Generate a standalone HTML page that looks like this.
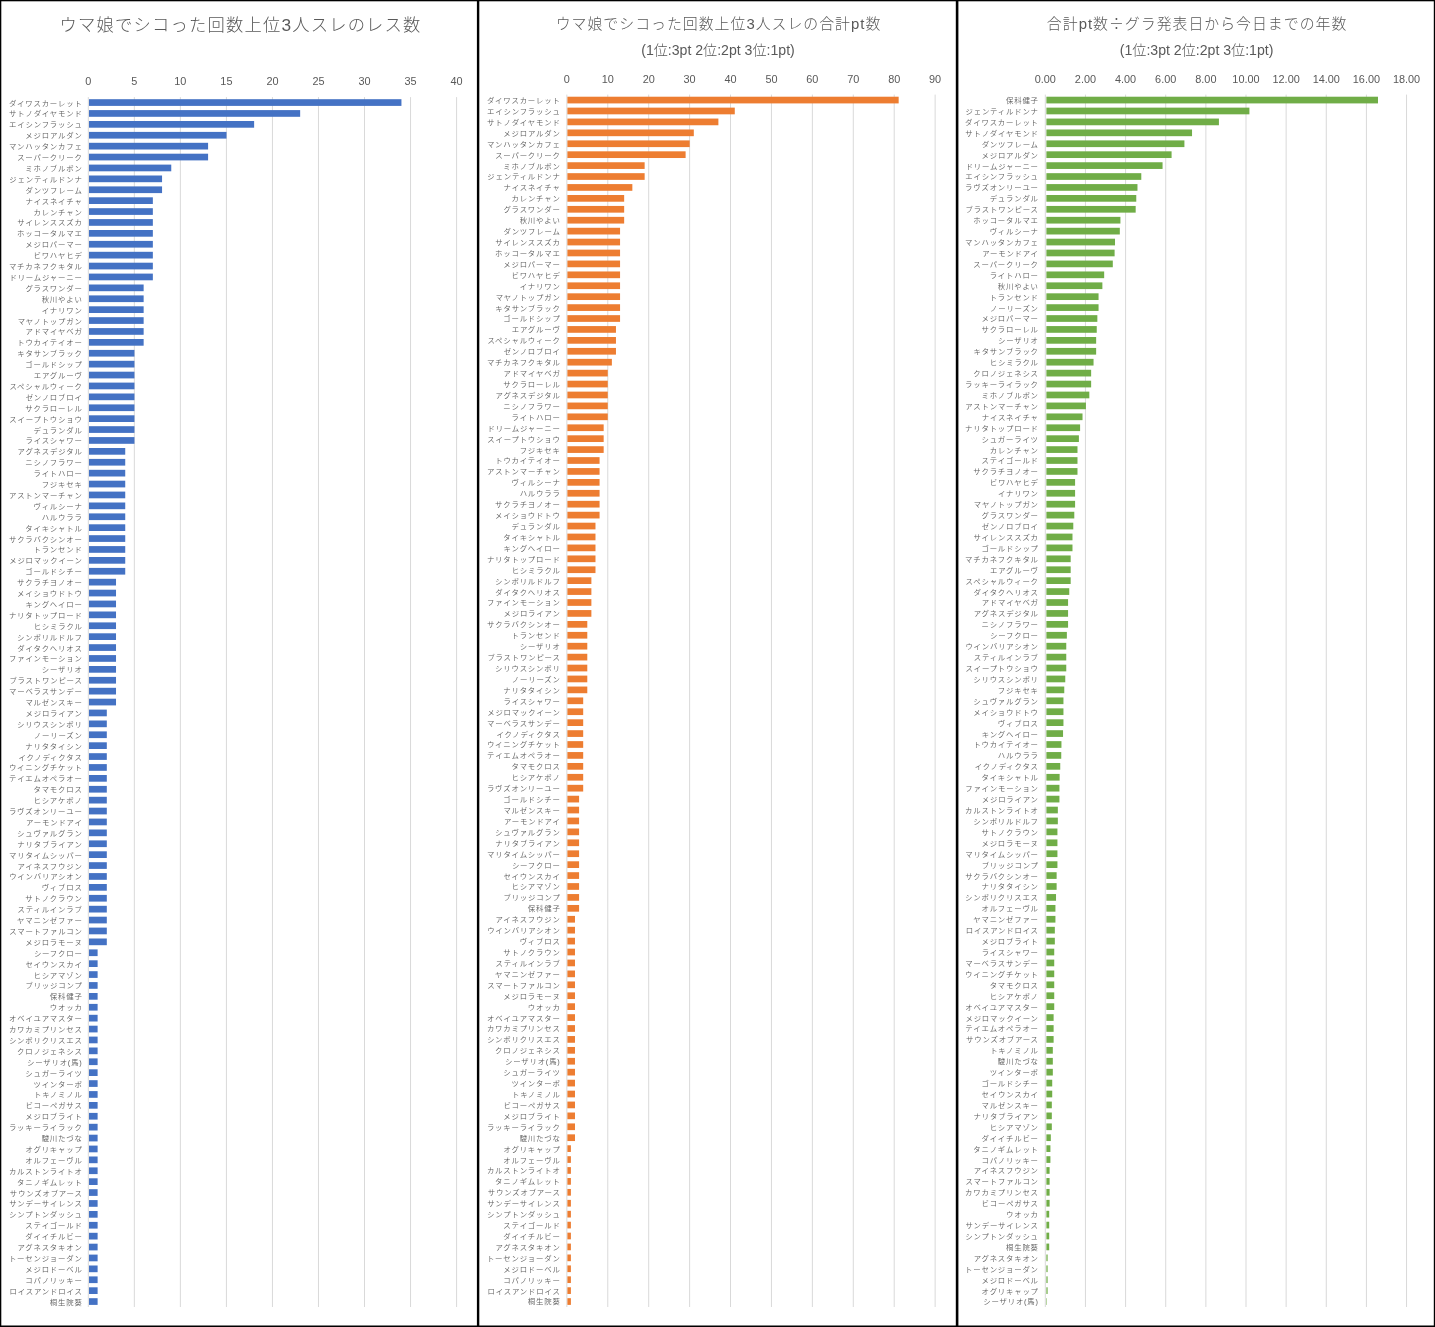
<!DOCTYPE html>
<html lang="ja"><head><meta charset="utf-8"><title>chart</title>
<style>
html,body{margin:0;padding:0;background:#fff;}
body{width:1435px;height:1327px;overflow:hidden;}
svg{display:block;font-family:"Liberation Sans", "Noto Sans CJK JP", sans-serif;}
.lb text{font-size:7.4px;letter-spacing:0.8px;fill:#606060;font-weight:350;}
.tk text{font-size:10.9px;fill:#595959;}
.tt{fill:#595959;font-weight:300;}
.cj{font-family:"Noto Sans CJK JP", sans-serif;}
</style></head><body>
<svg width="1435" height="1327" viewBox="0 0 1435 1327">
<rect x="0" y="0" width="1435" height="1327" fill="#fff"/>
<g stroke="#d9d9d9" stroke-width="1">
<line x1="88.30" y1="97.10" x2="88.30" y2="1307.00"/>
<line x1="134.34" y1="97.10" x2="134.34" y2="1307.00"/>
<line x1="180.37" y1="97.10" x2="180.37" y2="1307.00"/>
<line x1="226.41" y1="97.10" x2="226.41" y2="1307.00"/>
<line x1="272.44" y1="97.10" x2="272.44" y2="1307.00"/>
<line x1="318.48" y1="97.10" x2="318.48" y2="1307.00"/>
<line x1="364.51" y1="97.10" x2="364.51" y2="1307.00"/>
<line x1="410.55" y1="97.10" x2="410.55" y2="1307.00"/>
<line x1="456.58" y1="97.10" x2="456.58" y2="1307.00"/>
</g>
<g class="tk" text-anchor="middle">
<text x="88.30" y="85.2">0</text>
<text x="134.34" y="85.2">5</text>
<text x="180.37" y="85.2">10</text>
<text x="226.41" y="85.2">15</text>
<text x="272.44" y="85.2">20</text>
<text x="318.48" y="85.2">25</text>
<text x="364.51" y="85.2">30</text>
<text x="410.55" y="85.2">35</text>
<text x="456.58" y="85.2">40</text>
</g>
<g fill="#4472c4">
<rect x="89.00" y="99.20" width="312.44" height="6.7"/>
<rect x="89.00" y="110.10" width="211.16" height="6.7"/>
<rect x="89.00" y="121.00" width="165.13" height="6.7"/>
<rect x="89.00" y="131.90" width="137.51" height="6.7"/>
<rect x="89.00" y="142.80" width="119.09" height="6.7"/>
<rect x="89.00" y="153.70" width="119.09" height="6.7"/>
<rect x="89.00" y="164.60" width="82.26" height="6.7"/>
<rect x="89.00" y="175.50" width="73.06" height="6.7"/>
<rect x="89.00" y="186.40" width="73.06" height="6.7"/>
<rect x="89.00" y="197.30" width="63.85" height="6.7"/>
<rect x="89.00" y="208.20" width="63.85" height="6.7"/>
<rect x="89.00" y="219.10" width="63.85" height="6.7"/>
<rect x="89.00" y="230.00" width="63.85" height="6.7"/>
<rect x="89.00" y="240.90" width="63.85" height="6.7"/>
<rect x="89.00" y="251.80" width="63.85" height="6.7"/>
<rect x="89.00" y="262.70" width="63.85" height="6.7"/>
<rect x="89.00" y="273.60" width="63.85" height="6.7"/>
<rect x="89.00" y="284.50" width="54.64" height="6.7"/>
<rect x="89.00" y="295.40" width="54.64" height="6.7"/>
<rect x="89.00" y="306.30" width="54.64" height="6.7"/>
<rect x="89.00" y="317.20" width="54.64" height="6.7"/>
<rect x="89.00" y="328.10" width="54.64" height="6.7"/>
<rect x="89.00" y="339.00" width="54.64" height="6.7"/>
<rect x="89.00" y="349.90" width="45.44" height="6.7"/>
<rect x="89.00" y="360.80" width="45.44" height="6.7"/>
<rect x="89.00" y="371.70" width="45.44" height="6.7"/>
<rect x="89.00" y="382.60" width="45.44" height="6.7"/>
<rect x="89.00" y="393.50" width="45.44" height="6.7"/>
<rect x="89.00" y="404.40" width="45.44" height="6.7"/>
<rect x="89.00" y="415.30" width="45.44" height="6.7"/>
<rect x="89.00" y="426.20" width="45.44" height="6.7"/>
<rect x="89.00" y="437.10" width="45.44" height="6.7"/>
<rect x="89.00" y="448.00" width="36.23" height="6.7"/>
<rect x="89.00" y="458.90" width="36.23" height="6.7"/>
<rect x="89.00" y="469.80" width="36.23" height="6.7"/>
<rect x="89.00" y="480.70" width="36.23" height="6.7"/>
<rect x="89.00" y="491.60" width="36.23" height="6.7"/>
<rect x="89.00" y="502.50" width="36.23" height="6.7"/>
<rect x="89.00" y="513.40" width="36.23" height="6.7"/>
<rect x="89.00" y="524.30" width="36.23" height="6.7"/>
<rect x="89.00" y="535.20" width="36.23" height="6.7"/>
<rect x="89.00" y="546.10" width="36.23" height="6.7"/>
<rect x="89.00" y="557.00" width="36.23" height="6.7"/>
<rect x="89.00" y="567.90" width="36.23" height="6.7"/>
<rect x="89.00" y="578.80" width="27.02" height="6.7"/>
<rect x="89.00" y="589.70" width="27.02" height="6.7"/>
<rect x="89.00" y="600.60" width="27.02" height="6.7"/>
<rect x="89.00" y="611.50" width="27.02" height="6.7"/>
<rect x="89.00" y="622.40" width="27.02" height="6.7"/>
<rect x="89.00" y="633.30" width="27.02" height="6.7"/>
<rect x="89.00" y="644.20" width="27.02" height="6.7"/>
<rect x="89.00" y="655.10" width="27.02" height="6.7"/>
<rect x="89.00" y="666.00" width="27.02" height="6.7"/>
<rect x="89.00" y="676.90" width="27.02" height="6.7"/>
<rect x="89.00" y="687.80" width="27.02" height="6.7"/>
<rect x="89.00" y="698.70" width="27.02" height="6.7"/>
<rect x="89.00" y="709.60" width="17.81" height="6.7"/>
<rect x="89.00" y="720.50" width="17.81" height="6.7"/>
<rect x="89.00" y="731.40" width="17.81" height="6.7"/>
<rect x="89.00" y="742.30" width="17.81" height="6.7"/>
<rect x="89.00" y="753.20" width="17.81" height="6.7"/>
<rect x="89.00" y="764.10" width="17.81" height="6.7"/>
<rect x="89.00" y="775.00" width="17.81" height="6.7"/>
<rect x="89.00" y="785.90" width="17.81" height="6.7"/>
<rect x="89.00" y="796.80" width="17.81" height="6.7"/>
<rect x="89.00" y="807.70" width="17.81" height="6.7"/>
<rect x="89.00" y="818.60" width="17.81" height="6.7"/>
<rect x="89.00" y="829.50" width="17.81" height="6.7"/>
<rect x="89.00" y="840.40" width="17.81" height="6.7"/>
<rect x="89.00" y="851.30" width="17.81" height="6.7"/>
<rect x="89.00" y="862.20" width="17.81" height="6.7"/>
<rect x="89.00" y="873.10" width="17.81" height="6.7"/>
<rect x="89.00" y="884.00" width="17.81" height="6.7"/>
<rect x="89.00" y="894.90" width="17.81" height="6.7"/>
<rect x="89.00" y="905.80" width="17.81" height="6.7"/>
<rect x="89.00" y="916.70" width="17.81" height="6.7"/>
<rect x="89.00" y="927.60" width="17.81" height="6.7"/>
<rect x="89.00" y="938.50" width="17.81" height="6.7"/>
<rect x="89.00" y="949.40" width="8.61" height="6.7"/>
<rect x="89.00" y="960.30" width="8.61" height="6.7"/>
<rect x="89.00" y="971.20" width="8.61" height="6.7"/>
<rect x="89.00" y="982.10" width="8.61" height="6.7"/>
<rect x="89.00" y="993.00" width="8.61" height="6.7"/>
<rect x="89.00" y="1003.90" width="8.61" height="6.7"/>
<rect x="89.00" y="1014.80" width="8.61" height="6.7"/>
<rect x="89.00" y="1025.70" width="8.61" height="6.7"/>
<rect x="89.00" y="1036.60" width="8.61" height="6.7"/>
<rect x="89.00" y="1047.50" width="8.61" height="6.7"/>
<rect x="89.00" y="1058.40" width="8.61" height="6.7"/>
<rect x="89.00" y="1069.30" width="8.61" height="6.7"/>
<rect x="89.00" y="1080.20" width="8.61" height="6.7"/>
<rect x="89.00" y="1091.10" width="8.61" height="6.7"/>
<rect x="89.00" y="1102.00" width="8.61" height="6.7"/>
<rect x="89.00" y="1112.90" width="8.61" height="6.7"/>
<rect x="89.00" y="1123.80" width="8.61" height="6.7"/>
<rect x="89.00" y="1134.70" width="8.61" height="6.7"/>
<rect x="89.00" y="1145.60" width="8.61" height="6.7"/>
<rect x="89.00" y="1156.50" width="8.61" height="6.7"/>
<rect x="89.00" y="1167.40" width="8.61" height="6.7"/>
<rect x="89.00" y="1178.30" width="8.61" height="6.7"/>
<rect x="89.00" y="1189.20" width="8.61" height="6.7"/>
<rect x="89.00" y="1200.10" width="8.61" height="6.7"/>
<rect x="89.00" y="1211.00" width="8.61" height="6.7"/>
<rect x="89.00" y="1221.90" width="8.61" height="6.7"/>
<rect x="89.00" y="1232.80" width="8.61" height="6.7"/>
<rect x="89.00" y="1243.70" width="8.61" height="6.7"/>
<rect x="89.00" y="1254.60" width="8.61" height="6.7"/>
<rect x="89.00" y="1265.50" width="8.61" height="6.7"/>
<rect x="89.00" y="1276.40" width="8.61" height="6.7"/>
<rect x="89.00" y="1287.30" width="8.61" height="6.7"/>
<rect x="89.00" y="1298.20" width="8.61" height="6.7"/>
</g>
<g class="lb" text-anchor="end">
<text x="82.6" y="105.50">ダイワスカーレット</text>
<text x="82.6" y="116.40">サトノダイヤモンド</text>
<text x="82.6" y="127.30">エイシンフラッシュ</text>
<text x="82.6" y="138.20">メジロアルダン</text>
<text x="82.6" y="149.10">マンハッタンカフェ</text>
<text x="82.6" y="160.00">スーパークリーク</text>
<text x="82.6" y="170.90">ミホノブルボン</text>
<text x="82.6" y="181.80">ジェンティルドンナ</text>
<text x="82.6" y="192.70">ダンツフレーム</text>
<text x="82.6" y="203.60">ナイスネイチャ</text>
<text x="82.6" y="214.50">カレンチャン</text>
<text x="82.6" y="225.40">サイレンススズカ</text>
<text x="82.6" y="236.30">ホッコータルマエ</text>
<text x="82.6" y="247.20">メジロパーマー</text>
<text x="82.6" y="258.10">ビワハヤヒデ</text>
<text x="82.6" y="269.00">マチカネフクキタル</text>
<text x="82.6" y="279.90">ドリームジャーニー</text>
<text x="82.6" y="290.80">グラスワンダー</text>
<text x="82.6" y="301.70">秋川やよい</text>
<text x="82.6" y="312.60">イナリワン</text>
<text x="82.6" y="323.50">マヤノトップガン</text>
<text x="82.6" y="334.40">アドマイヤベガ</text>
<text x="82.6" y="345.30">トウカイテイオー</text>
<text x="82.6" y="356.20">キタサンブラック</text>
<text x="82.6" y="367.10">ゴールドシップ</text>
<text x="82.6" y="378.00">エアグルーヴ</text>
<text x="82.6" y="388.90">スペシャルウィーク</text>
<text x="82.6" y="399.80">ゼンノロブロイ</text>
<text x="82.6" y="410.70">サクラローレル</text>
<text x="82.6" y="421.60">スイープトウショウ</text>
<text x="82.6" y="432.50">デュランダル</text>
<text x="82.6" y="443.40">ライスシャワー</text>
<text x="82.6" y="454.30">アグネスデジタル</text>
<text x="82.6" y="465.20">ニシノフラワー</text>
<text x="82.6" y="476.10">ライトハロー</text>
<text x="82.6" y="487.00">フジキセキ</text>
<text x="82.6" y="497.90">アストンマーチャン</text>
<text x="82.6" y="508.80">ヴィルシーナ</text>
<text x="82.6" y="519.70">ハルウララ</text>
<text x="82.6" y="530.60">タイキシャトル</text>
<text x="82.6" y="541.50">サクラバクシンオー</text>
<text x="82.6" y="552.40">トランセンド</text>
<text x="82.6" y="563.30">メジロマックイーン</text>
<text x="82.6" y="574.20">ゴールドシチー</text>
<text x="82.6" y="585.10">サクラチヨノオー</text>
<text x="82.6" y="596.00">メイショウドトウ</text>
<text x="82.6" y="606.90">キングヘイロー</text>
<text x="82.6" y="617.80">ナリタトップロード</text>
<text x="82.6" y="628.70">ヒシミラクル</text>
<text x="82.6" y="639.60">シンボリルドルフ</text>
<text x="82.6" y="650.50">ダイタクヘリオス</text>
<text x="82.6" y="661.40">ファインモーション</text>
<text x="82.6" y="672.30">シーザリオ</text>
<text x="82.6" y="683.20">ブラストワンピース</text>
<text x="82.6" y="694.10">マーベラスサンデー</text>
<text x="82.6" y="705.00">マルゼンスキー</text>
<text x="82.6" y="715.90">メジロライアン</text>
<text x="82.6" y="726.80">シリウスシンボリ</text>
<text x="82.6" y="737.70">ノーリーズン</text>
<text x="82.6" y="748.60">ナリタタイシン</text>
<text x="82.6" y="759.50">イクノディクタス</text>
<text x="82.6" y="770.40">ウイニングチケット</text>
<text x="82.6" y="781.30">テイエムオペラオー</text>
<text x="82.6" y="792.20">タマモクロス</text>
<text x="82.6" y="803.10">ヒシアケボノ</text>
<text x="82.6" y="814.00">ラヴズオンリーユー</text>
<text x="82.6" y="824.90">アーモンドアイ</text>
<text x="82.6" y="835.80">シュヴァルグラン</text>
<text x="82.6" y="846.70">ナリタブライアン</text>
<text x="82.6" y="857.60">マリタイムシッパー</text>
<text x="82.6" y="868.50">アイネスフウジン</text>
<text x="82.6" y="879.40">ウインバリアシオン</text>
<text x="82.6" y="890.30">ヴィブロス</text>
<text x="82.6" y="901.20">サトノクラウン</text>
<text x="82.6" y="912.10">スティルインラブ</text>
<text x="82.6" y="923.00">ヤマニンゼファー</text>
<text x="82.6" y="933.90">スマートファルコン</text>
<text x="82.6" y="944.80">メジロラモーヌ</text>
<text x="82.6" y="955.70">シーフクロー</text>
<text x="82.6" y="966.60">セイウンスカイ</text>
<text x="82.6" y="977.50">ヒシアマゾン</text>
<text x="82.6" y="988.40">ブリッジコンプ</text>
<text x="82.6" y="999.30">保科健子</text>
<text x="82.6" y="1010.20">ウオッカ</text>
<text x="82.6" y="1021.10">オベイユアマスター</text>
<text x="82.6" y="1032.00">カワカミプリンセス</text>
<text x="82.6" y="1042.90">シンボリクリスエス</text>
<text x="82.6" y="1053.80">クロノジェネシス</text>
<text x="82.6" y="1064.70">シーザリオ(馬)</text>
<text x="82.6" y="1075.60">シュガーライツ</text>
<text x="82.6" y="1086.50">ツインターボ</text>
<text x="82.6" y="1097.40">トキノミノル</text>
<text x="82.6" y="1108.30">ビコーペガサス</text>
<text x="82.6" y="1119.20">メジロブライト</text>
<text x="82.6" y="1130.10">ラッキーライラック</text>
<text x="82.6" y="1141.00">駿川たづな</text>
<text x="82.6" y="1151.90">オグリキャップ</text>
<text x="82.6" y="1162.80">オルフェーヴル</text>
<text x="82.6" y="1173.70">カルストンライトオ</text>
<text x="82.6" y="1184.60">タニノギムレット</text>
<text x="82.6" y="1195.50">サウンズオブアース</text>
<text x="82.6" y="1206.40">サンデーサイレンス</text>
<text x="82.6" y="1217.30">シンプトンダッシュ</text>
<text x="82.6" y="1228.20">ステイゴールド</text>
<text x="82.6" y="1239.10">ダイイチルビー</text>
<text x="82.6" y="1250.00">アグネスタキオン</text>
<text x="82.6" y="1260.90">トーセンジョーダン</text>
<text x="82.6" y="1271.80">メジロドーベル</text>
<text x="82.6" y="1282.70">コパノリッキー</text>
<text x="82.6" y="1293.60">ロイスアンドロイス</text>
<text x="82.6" y="1304.50">桐生院葵</text>
</g>
<text class="tt" text-anchor="middle" x="240.6" y="31.2" font-size="17.3" letter-spacing="1.2">ウマ娘でシコった回数上位3人スレのレス数</text>
<g stroke="#d9d9d9" stroke-width="1">
<line x1="566.85" y1="94.60" x2="566.85" y2="1307.00"/>
<line x1="607.77" y1="94.60" x2="607.77" y2="1307.00"/>
<line x1="648.69" y1="94.60" x2="648.69" y2="1307.00"/>
<line x1="689.61" y1="94.60" x2="689.61" y2="1307.00"/>
<line x1="730.53" y1="94.60" x2="730.53" y2="1307.00"/>
<line x1="771.45" y1="94.60" x2="771.45" y2="1307.00"/>
<line x1="812.37" y1="94.60" x2="812.37" y2="1307.00"/>
<line x1="853.29" y1="94.60" x2="853.29" y2="1307.00"/>
<line x1="894.21" y1="94.60" x2="894.21" y2="1307.00"/>
<line x1="935.13" y1="94.60" x2="935.13" y2="1307.00"/>
</g>
<g class="tk" text-anchor="middle">
<text x="566.85" y="83.2">0</text>
<text x="607.77" y="83.2">10</text>
<text x="648.69" y="83.2">20</text>
<text x="689.61" y="83.2">30</text>
<text x="730.53" y="83.2">40</text>
<text x="771.45" y="83.2">50</text>
<text x="812.37" y="83.2">60</text>
<text x="853.29" y="83.2">70</text>
<text x="894.21" y="83.2">80</text>
<text x="935.13" y="83.2">90</text>
</g>
<g fill="#ed7d31">
<rect x="567.40" y="96.71" width="331.26" height="6.7"/>
<rect x="567.40" y="107.63" width="167.38" height="6.7"/>
<rect x="567.40" y="118.56" width="150.99" height="6.7"/>
<rect x="567.40" y="129.48" width="126.41" height="6.7"/>
<rect x="567.40" y="140.40" width="122.31" height="6.7"/>
<rect x="567.40" y="151.32" width="118.21" height="6.7"/>
<rect x="567.40" y="162.25" width="77.24" height="6.7"/>
<rect x="567.40" y="173.17" width="77.24" height="6.7"/>
<rect x="567.40" y="184.09" width="64.95" height="6.7"/>
<rect x="567.40" y="195.01" width="56.76" height="6.7"/>
<rect x="567.40" y="205.94" width="56.76" height="6.7"/>
<rect x="567.40" y="216.86" width="56.76" height="6.7"/>
<rect x="567.40" y="227.78" width="52.66" height="6.7"/>
<rect x="567.40" y="238.70" width="52.66" height="6.7"/>
<rect x="567.40" y="249.63" width="52.66" height="6.7"/>
<rect x="567.40" y="260.55" width="52.66" height="6.7"/>
<rect x="567.40" y="271.47" width="52.66" height="6.7"/>
<rect x="567.40" y="282.39" width="52.66" height="6.7"/>
<rect x="567.40" y="293.32" width="52.66" height="6.7"/>
<rect x="567.40" y="304.24" width="52.66" height="6.7"/>
<rect x="567.40" y="315.16" width="52.66" height="6.7"/>
<rect x="567.40" y="326.08" width="48.56" height="6.7"/>
<rect x="567.40" y="337.01" width="48.56" height="6.7"/>
<rect x="567.40" y="347.93" width="48.56" height="6.7"/>
<rect x="567.40" y="358.85" width="44.47" height="6.7"/>
<rect x="567.40" y="369.77" width="40.37" height="6.7"/>
<rect x="567.40" y="380.70" width="40.37" height="6.7"/>
<rect x="567.40" y="391.62" width="40.37" height="6.7"/>
<rect x="567.40" y="402.54" width="40.37" height="6.7"/>
<rect x="567.40" y="413.46" width="40.37" height="6.7"/>
<rect x="567.40" y="424.39" width="36.27" height="6.7"/>
<rect x="567.40" y="435.31" width="36.27" height="6.7"/>
<rect x="567.40" y="446.23" width="36.27" height="6.7"/>
<rect x="567.40" y="457.15" width="32.18" height="6.7"/>
<rect x="567.40" y="468.08" width="32.18" height="6.7"/>
<rect x="567.40" y="479.00" width="32.18" height="6.7"/>
<rect x="567.40" y="489.92" width="32.18" height="6.7"/>
<rect x="567.40" y="500.84" width="32.18" height="6.7"/>
<rect x="567.40" y="511.77" width="32.18" height="6.7"/>
<rect x="567.40" y="522.69" width="28.08" height="6.7"/>
<rect x="567.40" y="533.61" width="28.08" height="6.7"/>
<rect x="567.40" y="544.53" width="28.08" height="6.7"/>
<rect x="567.40" y="555.46" width="28.08" height="6.7"/>
<rect x="567.40" y="566.38" width="28.08" height="6.7"/>
<rect x="567.40" y="577.30" width="23.98" height="6.7"/>
<rect x="567.40" y="588.22" width="23.98" height="6.7"/>
<rect x="567.40" y="599.15" width="23.98" height="6.7"/>
<rect x="567.40" y="610.07" width="23.98" height="6.7"/>
<rect x="567.40" y="620.99" width="19.89" height="6.7"/>
<rect x="567.40" y="631.91" width="19.89" height="6.7"/>
<rect x="567.40" y="642.84" width="19.89" height="6.7"/>
<rect x="567.40" y="653.76" width="19.89" height="6.7"/>
<rect x="567.40" y="664.68" width="19.89" height="6.7"/>
<rect x="567.40" y="675.60" width="19.89" height="6.7"/>
<rect x="567.40" y="686.53" width="19.89" height="6.7"/>
<rect x="567.40" y="697.45" width="15.79" height="6.7"/>
<rect x="567.40" y="708.37" width="15.79" height="6.7"/>
<rect x="567.40" y="719.30" width="15.79" height="6.7"/>
<rect x="567.40" y="730.22" width="15.79" height="6.7"/>
<rect x="567.40" y="741.14" width="15.79" height="6.7"/>
<rect x="567.40" y="752.06" width="15.79" height="6.7"/>
<rect x="567.40" y="762.99" width="15.79" height="6.7"/>
<rect x="567.40" y="773.91" width="15.79" height="6.7"/>
<rect x="567.40" y="784.83" width="15.79" height="6.7"/>
<rect x="567.40" y="795.75" width="11.69" height="6.7"/>
<rect x="567.40" y="806.68" width="11.69" height="6.7"/>
<rect x="567.40" y="817.60" width="11.69" height="6.7"/>
<rect x="567.40" y="828.52" width="11.69" height="6.7"/>
<rect x="567.40" y="839.44" width="11.69" height="6.7"/>
<rect x="567.40" y="850.37" width="11.69" height="6.7"/>
<rect x="567.40" y="861.29" width="11.69" height="6.7"/>
<rect x="567.40" y="872.21" width="11.69" height="6.7"/>
<rect x="567.40" y="883.13" width="11.69" height="6.7"/>
<rect x="567.40" y="894.06" width="11.69" height="6.7"/>
<rect x="567.40" y="904.98" width="11.69" height="6.7"/>
<rect x="567.40" y="915.90" width="7.59" height="6.7"/>
<rect x="567.40" y="926.82" width="7.59" height="6.7"/>
<rect x="567.40" y="937.75" width="7.59" height="6.7"/>
<rect x="567.40" y="948.67" width="7.59" height="6.7"/>
<rect x="567.40" y="959.59" width="7.59" height="6.7"/>
<rect x="567.40" y="970.51" width="7.59" height="6.7"/>
<rect x="567.40" y="981.44" width="7.59" height="6.7"/>
<rect x="567.40" y="992.36" width="7.59" height="6.7"/>
<rect x="567.40" y="1003.28" width="7.59" height="6.7"/>
<rect x="567.40" y="1014.20" width="7.59" height="6.7"/>
<rect x="567.40" y="1025.13" width="7.59" height="6.7"/>
<rect x="567.40" y="1036.05" width="7.59" height="6.7"/>
<rect x="567.40" y="1046.97" width="7.59" height="6.7"/>
<rect x="567.40" y="1057.89" width="7.59" height="6.7"/>
<rect x="567.40" y="1068.82" width="7.59" height="6.7"/>
<rect x="567.40" y="1079.74" width="7.59" height="6.7"/>
<rect x="567.40" y="1090.66" width="7.59" height="6.7"/>
<rect x="567.40" y="1101.58" width="7.59" height="6.7"/>
<rect x="567.40" y="1112.51" width="7.59" height="6.7"/>
<rect x="567.40" y="1123.43" width="7.59" height="6.7"/>
<rect x="567.40" y="1134.35" width="7.59" height="6.7"/>
<rect x="567.40" y="1145.27" width="3.50" height="6.7"/>
<rect x="567.40" y="1156.20" width="3.50" height="6.7"/>
<rect x="567.40" y="1167.12" width="3.50" height="6.7"/>
<rect x="567.40" y="1178.04" width="3.50" height="6.7"/>
<rect x="567.40" y="1188.96" width="3.50" height="6.7"/>
<rect x="567.40" y="1199.89" width="3.50" height="6.7"/>
<rect x="567.40" y="1210.81" width="3.50" height="6.7"/>
<rect x="567.40" y="1221.73" width="3.50" height="6.7"/>
<rect x="567.40" y="1232.65" width="3.50" height="6.7"/>
<rect x="567.40" y="1243.58" width="3.50" height="6.7"/>
<rect x="567.40" y="1254.50" width="3.50" height="6.7"/>
<rect x="567.40" y="1265.42" width="3.50" height="6.7"/>
<rect x="567.40" y="1276.34" width="3.50" height="6.7"/>
<rect x="567.40" y="1287.27" width="3.50" height="6.7"/>
<rect x="567.40" y="1298.19" width="3.50" height="6.7"/>
</g>
<g class="lb" text-anchor="end">
<text x="560.6" y="103.01">ダイワスカーレット</text>
<text x="560.6" y="113.93">エイシンフラッシュ</text>
<text x="560.6" y="124.86">サトノダイヤモンド</text>
<text x="560.6" y="135.78">メジロアルダン</text>
<text x="560.6" y="146.70">マンハッタンカフェ</text>
<text x="560.6" y="157.62">スーパークリーク</text>
<text x="560.6" y="168.55">ミホノブルボン</text>
<text x="560.6" y="179.47">ジェンティルドンナ</text>
<text x="560.6" y="190.39">ナイスネイチャ</text>
<text x="560.6" y="201.31">カレンチャン</text>
<text x="560.6" y="212.24">グラスワンダー</text>
<text x="560.6" y="223.16">秋川やよい</text>
<text x="560.6" y="234.08">ダンツフレーム</text>
<text x="560.6" y="245.00">サイレンススズカ</text>
<text x="560.6" y="255.93">ホッコータルマエ</text>
<text x="560.6" y="266.85">メジロパーマー</text>
<text x="560.6" y="277.77">ビワハヤヒデ</text>
<text x="560.6" y="288.69">イナリワン</text>
<text x="560.6" y="299.62">マヤノトップガン</text>
<text x="560.6" y="310.54">キタサンブラック</text>
<text x="560.6" y="321.46">ゴールドシップ</text>
<text x="560.6" y="332.38">エアグルーヴ</text>
<text x="560.6" y="343.31">スペシャルウィーク</text>
<text x="560.6" y="354.23">ゼンノロブロイ</text>
<text x="560.6" y="365.15">マチカネフクキタル</text>
<text x="560.6" y="376.07">アドマイヤベガ</text>
<text x="560.6" y="387.00">サクラローレル</text>
<text x="560.6" y="397.92">アグネスデジタル</text>
<text x="560.6" y="408.84">ニシノフラワー</text>
<text x="560.6" y="419.76">ライトハロー</text>
<text x="560.6" y="430.69">ドリームジャーニー</text>
<text x="560.6" y="441.61">スイープトウショウ</text>
<text x="560.6" y="452.53">フジキセキ</text>
<text x="560.6" y="463.45">トウカイテイオー</text>
<text x="560.6" y="474.38">アストンマーチャン</text>
<text x="560.6" y="485.30">ヴィルシーナ</text>
<text x="560.6" y="496.22">ハルウララ</text>
<text x="560.6" y="507.14">サクラチヨノオー</text>
<text x="560.6" y="518.07">メイショウドトウ</text>
<text x="560.6" y="528.99">デュランダル</text>
<text x="560.6" y="539.91">タイキシャトル</text>
<text x="560.6" y="550.83">キングヘイロー</text>
<text x="560.6" y="561.76">ナリタトップロード</text>
<text x="560.6" y="572.68">ヒシミラクル</text>
<text x="560.6" y="583.60">シンボリルドルフ</text>
<text x="560.6" y="594.52">ダイタクヘリオス</text>
<text x="560.6" y="605.45">ファインモーション</text>
<text x="560.6" y="616.37">メジロライアン</text>
<text x="560.6" y="627.29">サクラバクシンオー</text>
<text x="560.6" y="638.21">トランセンド</text>
<text x="560.6" y="649.14">シーザリオ</text>
<text x="560.6" y="660.06">ブラストワンピース</text>
<text x="560.6" y="670.98">シリウスシンボリ</text>
<text x="560.6" y="681.90">ノーリーズン</text>
<text x="560.6" y="692.83">ナリタタイシン</text>
<text x="560.6" y="703.75">ライスシャワー</text>
<text x="560.6" y="714.67">メジロマックイーン</text>
<text x="560.6" y="725.60">マーベラスサンデー</text>
<text x="560.6" y="736.52">イクノディクタス</text>
<text x="560.6" y="747.44">ウイニングチケット</text>
<text x="560.6" y="758.36">テイエムオペラオー</text>
<text x="560.6" y="769.29">タマモクロス</text>
<text x="560.6" y="780.21">ヒシアケボノ</text>
<text x="560.6" y="791.13">ラヴズオンリーユー</text>
<text x="560.6" y="802.05">ゴールドシチー</text>
<text x="560.6" y="812.98">マルゼンスキー</text>
<text x="560.6" y="823.90">アーモンドアイ</text>
<text x="560.6" y="834.82">シュヴァルグラン</text>
<text x="560.6" y="845.74">ナリタブライアン</text>
<text x="560.6" y="856.67">マリタイムシッパー</text>
<text x="560.6" y="867.59">シーフクロー</text>
<text x="560.6" y="878.51">セイウンスカイ</text>
<text x="560.6" y="889.43">ヒシアマゾン</text>
<text x="560.6" y="900.36">ブリッジコンプ</text>
<text x="560.6" y="911.28">保科健子</text>
<text x="560.6" y="922.20">アイネスフウジン</text>
<text x="560.6" y="933.12">ウインバリアシオン</text>
<text x="560.6" y="944.05">ヴィブロス</text>
<text x="560.6" y="954.97">サトノクラウン</text>
<text x="560.6" y="965.89">スティルインラブ</text>
<text x="560.6" y="976.81">ヤマニンゼファー</text>
<text x="560.6" y="987.74">スマートファルコン</text>
<text x="560.6" y="998.66">メジロラモーヌ</text>
<text x="560.6" y="1009.58">ウオッカ</text>
<text x="560.6" y="1020.50">オベイユアマスター</text>
<text x="560.6" y="1031.43">カワカミプリンセス</text>
<text x="560.6" y="1042.35">シンボリクリスエス</text>
<text x="560.6" y="1053.27">クロノジェネシス</text>
<text x="560.6" y="1064.19">シーザリオ(馬)</text>
<text x="560.6" y="1075.12">シュガーライツ</text>
<text x="560.6" y="1086.04">ツインターボ</text>
<text x="560.6" y="1096.96">トキノミノル</text>
<text x="560.6" y="1107.88">ビコーペガサス</text>
<text x="560.6" y="1118.81">メジロブライト</text>
<text x="560.6" y="1129.73">ラッキーライラック</text>
<text x="560.6" y="1140.65">駿川たづな</text>
<text x="560.6" y="1151.57">オグリキャップ</text>
<text x="560.6" y="1162.50">オルフェーヴル</text>
<text x="560.6" y="1173.42">カルストンライトオ</text>
<text x="560.6" y="1184.34">タニノギムレット</text>
<text x="560.6" y="1195.26">サウンズオブアース</text>
<text x="560.6" y="1206.19">サンデーサイレンス</text>
<text x="560.6" y="1217.11">シンプトンダッシュ</text>
<text x="560.6" y="1228.03">ステイゴールド</text>
<text x="560.6" y="1238.95">ダイイチルビー</text>
<text x="560.6" y="1249.88">アグネスタキオン</text>
<text x="560.6" y="1260.80">トーセンジョーダン</text>
<text x="560.6" y="1271.72">メジロドーベル</text>
<text x="560.6" y="1282.64">コパノリッキー</text>
<text x="560.6" y="1293.57">ロイスアンドロイス</text>
<text x="560.6" y="1304.49">桐生院葵</text>
</g>
<text class="tt" text-anchor="middle" x="718.5" y="29.0" font-size="14.9" letter-spacing="1.0">ウマ娘でシコった回数上位3人スレの合計pt数</text>
<text class="tt" text-anchor="middle" x="718" y="55" font-size="14.1">(1位:3pt 2位:2pt 3位:1pt)</text>
<g stroke="#d9d9d9" stroke-width="1">
<line x1="1045.30" y1="94.60" x2="1045.30" y2="1307.00"/>
<line x1="1085.44" y1="94.60" x2="1085.44" y2="1307.00"/>
<line x1="1125.58" y1="94.60" x2="1125.58" y2="1307.00"/>
<line x1="1165.72" y1="94.60" x2="1165.72" y2="1307.00"/>
<line x1="1205.86" y1="94.60" x2="1205.86" y2="1307.00"/>
<line x1="1246.00" y1="94.60" x2="1246.00" y2="1307.00"/>
<line x1="1286.14" y1="94.60" x2="1286.14" y2="1307.00"/>
<line x1="1326.28" y1="94.60" x2="1326.28" y2="1307.00"/>
<line x1="1366.42" y1="94.60" x2="1366.42" y2="1307.00"/>
<line x1="1406.56" y1="94.60" x2="1406.56" y2="1307.00"/>
</g>
<g class="tk" text-anchor="middle">
<text x="1045.30" y="83.2">0.00</text>
<text x="1085.44" y="83.2">2.00</text>
<text x="1125.58" y="83.2">4.00</text>
<text x="1165.72" y="83.2">6.00</text>
<text x="1205.86" y="83.2">8.00</text>
<text x="1246.00" y="83.2">10.00</text>
<text x="1286.14" y="83.2">12.00</text>
<text x="1326.28" y="83.2">14.00</text>
<text x="1366.42" y="83.2">16.00</text>
<text x="1406.56" y="83.2">18.00</text>
</g>
<g fill="#70ad47">
<rect x="1046.40" y="96.71" width="331.59" height="6.7"/>
<rect x="1046.40" y="107.63" width="203.01" height="6.7"/>
<rect x="1046.40" y="118.56" width="172.52" height="6.7"/>
<rect x="1046.40" y="129.48" width="145.64" height="6.7"/>
<rect x="1046.40" y="140.40" width="138.01" height="6.7"/>
<rect x="1046.40" y="151.32" width="125.18" height="6.7"/>
<rect x="1046.40" y="162.25" width="116.15" height="6.7"/>
<rect x="1046.40" y="173.17" width="94.89" height="6.7"/>
<rect x="1046.40" y="184.09" width="91.07" height="6.7"/>
<rect x="1046.40" y="195.01" width="89.87" height="6.7"/>
<rect x="1046.40" y="205.94" width="89.27" height="6.7"/>
<rect x="1046.40" y="216.86" width="74.02" height="6.7"/>
<rect x="1046.40" y="227.78" width="73.42" height="6.7"/>
<rect x="1046.40" y="238.70" width="68.61" height="6.7"/>
<rect x="1046.40" y="249.63" width="68.21" height="6.7"/>
<rect x="1046.40" y="260.55" width="66.40" height="6.7"/>
<rect x="1046.40" y="271.47" width="57.77" height="6.7"/>
<rect x="1046.40" y="282.39" width="55.97" height="6.7"/>
<rect x="1046.40" y="293.32" width="52.16" height="6.7"/>
<rect x="1046.40" y="304.24" width="52.16" height="6.7"/>
<rect x="1046.40" y="315.16" width="50.95" height="6.7"/>
<rect x="1046.40" y="326.08" width="50.35" height="6.7"/>
<rect x="1046.40" y="337.01" width="49.75" height="6.7"/>
<rect x="1046.40" y="347.93" width="49.75" height="6.7"/>
<rect x="1046.40" y="358.85" width="47.14" height="6.7"/>
<rect x="1046.40" y="369.77" width="44.74" height="6.7"/>
<rect x="1046.40" y="380.70" width="44.74" height="6.7"/>
<rect x="1046.40" y="391.62" width="42.93" height="6.7"/>
<rect x="1046.40" y="402.54" width="39.52" height="6.7"/>
<rect x="1046.40" y="413.46" width="36.11" height="6.7"/>
<rect x="1046.40" y="424.39" width="33.70" height="6.7"/>
<rect x="1046.40" y="435.31" width="32.50" height="6.7"/>
<rect x="1046.40" y="446.23" width="31.09" height="6.7"/>
<rect x="1046.40" y="457.15" width="31.09" height="6.7"/>
<rect x="1046.40" y="468.08" width="31.09" height="6.7"/>
<rect x="1046.40" y="479.00" width="28.69" height="6.7"/>
<rect x="1046.40" y="489.92" width="28.69" height="6.7"/>
<rect x="1046.40" y="500.84" width="28.69" height="6.7"/>
<rect x="1046.40" y="511.77" width="27.89" height="6.7"/>
<rect x="1046.40" y="522.69" width="26.88" height="6.7"/>
<rect x="1046.40" y="533.61" width="26.08" height="6.7"/>
<rect x="1046.40" y="544.53" width="26.08" height="6.7"/>
<rect x="1046.40" y="555.46" width="24.27" height="6.7"/>
<rect x="1046.40" y="566.38" width="24.27" height="6.7"/>
<rect x="1046.40" y="577.30" width="24.27" height="6.7"/>
<rect x="1046.40" y="588.22" width="22.87" height="6.7"/>
<rect x="1046.40" y="599.15" width="21.67" height="6.7"/>
<rect x="1046.40" y="610.07" width="21.67" height="6.7"/>
<rect x="1046.40" y="620.99" width="21.67" height="6.7"/>
<rect x="1046.40" y="631.91" width="20.46" height="6.7"/>
<rect x="1046.40" y="642.84" width="19.86" height="6.7"/>
<rect x="1046.40" y="653.76" width="19.86" height="6.7"/>
<rect x="1046.40" y="664.68" width="19.86" height="6.7"/>
<rect x="1046.40" y="675.60" width="18.86" height="6.7"/>
<rect x="1046.40" y="686.53" width="17.86" height="6.7"/>
<rect x="1046.40" y="697.45" width="17.05" height="6.7"/>
<rect x="1046.40" y="708.37" width="17.05" height="6.7"/>
<rect x="1046.40" y="719.30" width="17.05" height="6.7"/>
<rect x="1046.40" y="730.22" width="16.65" height="6.7"/>
<rect x="1046.40" y="741.14" width="15.05" height="6.7"/>
<rect x="1046.40" y="752.06" width="14.85" height="6.7"/>
<rect x="1046.40" y="762.99" width="13.84" height="6.7"/>
<rect x="1046.40" y="773.91" width="13.24" height="6.7"/>
<rect x="1046.40" y="784.83" width="13.04" height="6.7"/>
<rect x="1046.40" y="795.75" width="13.04" height="6.7"/>
<rect x="1046.40" y="806.68" width="11.44" height="6.7"/>
<rect x="1046.40" y="817.60" width="11.44" height="6.7"/>
<rect x="1046.40" y="828.52" width="11.03" height="6.7"/>
<rect x="1046.40" y="839.44" width="11.03" height="6.7"/>
<rect x="1046.40" y="850.37" width="11.03" height="6.7"/>
<rect x="1046.40" y="861.29" width="11.03" height="6.7"/>
<rect x="1046.40" y="872.21" width="10.23" height="6.7"/>
<rect x="1046.40" y="883.13" width="10.23" height="6.7"/>
<rect x="1046.40" y="894.06" width="9.63" height="6.7"/>
<rect x="1046.40" y="904.98" width="9.03" height="6.7"/>
<rect x="1046.40" y="915.90" width="9.03" height="6.7"/>
<rect x="1046.40" y="926.82" width="8.43" height="6.7"/>
<rect x="1046.40" y="937.75" width="8.43" height="6.7"/>
<rect x="1046.40" y="948.67" width="7.83" height="6.7"/>
<rect x="1046.40" y="959.59" width="7.83" height="6.7"/>
<rect x="1046.40" y="970.51" width="7.83" height="6.7"/>
<rect x="1046.40" y="981.44" width="7.83" height="6.7"/>
<rect x="1046.40" y="992.36" width="7.83" height="6.7"/>
<rect x="1046.40" y="1003.28" width="7.83" height="6.7"/>
<rect x="1046.40" y="1014.20" width="7.22" height="6.7"/>
<rect x="1046.40" y="1025.13" width="7.22" height="6.7"/>
<rect x="1046.40" y="1036.05" width="7.22" height="6.7"/>
<rect x="1046.40" y="1046.97" width="6.42" height="6.7"/>
<rect x="1046.40" y="1057.89" width="6.42" height="6.7"/>
<rect x="1046.40" y="1068.82" width="6.42" height="6.7"/>
<rect x="1046.40" y="1079.74" width="5.82" height="6.7"/>
<rect x="1046.40" y="1090.66" width="5.82" height="6.7"/>
<rect x="1046.40" y="1101.58" width="5.42" height="6.7"/>
<rect x="1046.40" y="1112.51" width="5.42" height="6.7"/>
<rect x="1046.40" y="1123.43" width="5.42" height="6.7"/>
<rect x="1046.40" y="1134.35" width="4.42" height="6.7"/>
<rect x="1046.40" y="1145.27" width="4.01" height="6.7"/>
<rect x="1046.40" y="1156.20" width="4.01" height="6.7"/>
<rect x="1046.40" y="1167.12" width="3.21" height="6.7"/>
<rect x="1046.40" y="1178.04" width="3.21" height="6.7"/>
<rect x="1046.40" y="1188.96" width="3.21" height="6.7"/>
<rect x="1046.40" y="1199.89" width="3.21" height="6.7"/>
<rect x="1046.40" y="1210.81" width="2.81" height="6.7"/>
<rect x="1046.40" y="1221.73" width="2.81" height="6.7"/>
<rect x="1046.40" y="1232.65" width="2.81" height="6.7"/>
<rect x="1046.40" y="1243.58" width="2.81" height="6.7"/>
<rect x="1046.40" y="1254.50" width="1.21" height="6.7"/>
<rect x="1046.40" y="1265.42" width="1.21" height="6.7"/>
<rect x="1046.40" y="1276.34" width="1.21" height="6.7"/>
<rect x="1046.40" y="1287.27" width="1.21" height="6.7"/>
<rect x="1046.40" y="1298.19" width="0.50" height="6.7"/>
</g>
<g class="lb" text-anchor="end">
<text x="1038.8" y="103.01">保科健子</text>
<text x="1038.8" y="113.93">ジェンティルドンナ</text>
<text x="1038.8" y="124.86">ダイワスカーレット</text>
<text x="1038.8" y="135.78">サトノダイヤモンド</text>
<text x="1038.8" y="146.70">ダンツフレーム</text>
<text x="1038.8" y="157.62">メジロアルダン</text>
<text x="1038.8" y="168.55">ドリームジャーニー</text>
<text x="1038.8" y="179.47">エイシンフラッシュ</text>
<text x="1038.8" y="190.39">ラヴズオンリーユー</text>
<text x="1038.8" y="201.31">デュランダル</text>
<text x="1038.8" y="212.24">ブラストワンピース</text>
<text x="1038.8" y="223.16">ホッコータルマエ</text>
<text x="1038.8" y="234.08">ヴィルシーナ</text>
<text x="1038.8" y="245.00">マンハッタンカフェ</text>
<text x="1038.8" y="255.93">アーモンドアイ</text>
<text x="1038.8" y="266.85">スーパークリーク</text>
<text x="1038.8" y="277.77">ライトハロー</text>
<text x="1038.8" y="288.69">秋川やよい</text>
<text x="1038.8" y="299.62">トランセンド</text>
<text x="1038.8" y="310.54">ノーリーズン</text>
<text x="1038.8" y="321.46">メジロパーマー</text>
<text x="1038.8" y="332.38">サクラローレル</text>
<text x="1038.8" y="343.31">シーザリオ</text>
<text x="1038.8" y="354.23">キタサンブラック</text>
<text x="1038.8" y="365.15">ヒシミラクル</text>
<text x="1038.8" y="376.07">クロノジェネシス</text>
<text x="1038.8" y="387.00">ラッキーライラック</text>
<text x="1038.8" y="397.92">ミホノブルボン</text>
<text x="1038.8" y="408.84">アストンマーチャン</text>
<text x="1038.8" y="419.76">ナイスネイチャ</text>
<text x="1038.8" y="430.69">ナリタトップロード</text>
<text x="1038.8" y="441.61">シュガーライツ</text>
<text x="1038.8" y="452.53">カレンチャン</text>
<text x="1038.8" y="463.45">ステイゴールド</text>
<text x="1038.8" y="474.38">サクラチヨノオー</text>
<text x="1038.8" y="485.30">ビワハヤヒデ</text>
<text x="1038.8" y="496.22">イナリワン</text>
<text x="1038.8" y="507.14">マヤノトップガン</text>
<text x="1038.8" y="518.07">グラスワンダー</text>
<text x="1038.8" y="528.99">ゼンノロブロイ</text>
<text x="1038.8" y="539.91">サイレンススズカ</text>
<text x="1038.8" y="550.83">ゴールドシップ</text>
<text x="1038.8" y="561.76">マチカネフクキタル</text>
<text x="1038.8" y="572.68">エアグルーヴ</text>
<text x="1038.8" y="583.60">スペシャルウィーク</text>
<text x="1038.8" y="594.52">ダイタクヘリオス</text>
<text x="1038.8" y="605.45">アドマイヤベガ</text>
<text x="1038.8" y="616.37">アグネスデジタル</text>
<text x="1038.8" y="627.29">ニシノフラワー</text>
<text x="1038.8" y="638.21">シーフクロー</text>
<text x="1038.8" y="649.14">ウインバリアシオン</text>
<text x="1038.8" y="660.06">スティルインラブ</text>
<text x="1038.8" y="670.98">スイープトウショウ</text>
<text x="1038.8" y="681.90">シリウスシンボリ</text>
<text x="1038.8" y="692.83">フジキセキ</text>
<text x="1038.8" y="703.75">シュヴァルグラン</text>
<text x="1038.8" y="714.67">メイショウドトウ</text>
<text x="1038.8" y="725.60">ヴィブロス</text>
<text x="1038.8" y="736.52">キングヘイロー</text>
<text x="1038.8" y="747.44">トウカイテイオー</text>
<text x="1038.8" y="758.36">ハルウララ</text>
<text x="1038.8" y="769.29">イクノディクタス</text>
<text x="1038.8" y="780.21">タイキシャトル</text>
<text x="1038.8" y="791.13">ファインモーション</text>
<text x="1038.8" y="802.05">メジロライアン</text>
<text x="1038.8" y="812.98">カルストンライトオ</text>
<text x="1038.8" y="823.90">シンボリルドルフ</text>
<text x="1038.8" y="834.82">サトノクラウン</text>
<text x="1038.8" y="845.74">メジロラモーヌ</text>
<text x="1038.8" y="856.67">マリタイムシッパー</text>
<text x="1038.8" y="867.59">ブリッジコンプ</text>
<text x="1038.8" y="878.51">サクラバクシンオー</text>
<text x="1038.8" y="889.43">ナリタタイシン</text>
<text x="1038.8" y="900.36">シンボリクリスエス</text>
<text x="1038.8" y="911.28">オルフェーヴル</text>
<text x="1038.8" y="922.20">ヤマニンゼファー</text>
<text x="1038.8" y="933.12">ロイスアンドロイス</text>
<text x="1038.8" y="944.05">メジロブライト</text>
<text x="1038.8" y="954.97">ライスシャワー</text>
<text x="1038.8" y="965.89">マーベラスサンデー</text>
<text x="1038.8" y="976.81">ウイニングチケット</text>
<text x="1038.8" y="987.74">タマモクロス</text>
<text x="1038.8" y="998.66">ヒシアケボノ</text>
<text x="1038.8" y="1009.58">オベイユアマスター</text>
<text x="1038.8" y="1020.50">メジロマックイーン</text>
<text x="1038.8" y="1031.43">テイエムオペラオー</text>
<text x="1038.8" y="1042.35">サウンズオブアース</text>
<text x="1038.8" y="1053.27">トキノミノル</text>
<text x="1038.8" y="1064.19">駿川たづな</text>
<text x="1038.8" y="1075.12">ツインターボ</text>
<text x="1038.8" y="1086.04">ゴールドシチー</text>
<text x="1038.8" y="1096.96">セイウンスカイ</text>
<text x="1038.8" y="1107.88">マルゼンスキー</text>
<text x="1038.8" y="1118.81">ナリタブライアン</text>
<text x="1038.8" y="1129.73">ヒシアマゾン</text>
<text x="1038.8" y="1140.65">ダイイチルビー</text>
<text x="1038.8" y="1151.57">タニノギムレット</text>
<text x="1038.8" y="1162.50">コパノリッキー</text>
<text x="1038.8" y="1173.42">アイネスフウジン</text>
<text x="1038.8" y="1184.34">スマートファルコン</text>
<text x="1038.8" y="1195.26">カワカミプリンセス</text>
<text x="1038.8" y="1206.19">ビコーペガサス</text>
<text x="1038.8" y="1217.11">ウオッカ</text>
<text x="1038.8" y="1228.03">サンデーサイレンス</text>
<text x="1038.8" y="1238.95">シンプトンダッシュ</text>
<text x="1038.8" y="1249.88">桐生院葵</text>
<text x="1038.8" y="1260.80">アグネスタキオン</text>
<text x="1038.8" y="1271.72">トーセンジョーダン</text>
<text x="1038.8" y="1282.64">メジロドーベル</text>
<text x="1038.8" y="1293.57">オグリキャップ</text>
<text x="1038.8" y="1304.49">シーザリオ(馬)</text>
</g>
<text class="tt" text-anchor="middle" x="1197.1" y="29.0" font-size="14.9" letter-spacing="1.0">合計pt数<tspan class='cj'>÷</tspan>グラ発表日から今日までの年数</text>
<text class="tt" text-anchor="middle" x="1196.6" y="55" font-size="14.1">(1位:3pt 2位:2pt 3位:1pt)</text>
<g fill="#000">
<rect x="0" y="0" width="1435" height="1.3"/>
<rect x="0" y="1325.5" width="1435" height="1.5"/>
<rect x="0" y="0" width="1.3" height="1327"/>
<rect x="1433.8" y="0" width="1.2" height="1327"/>
<rect x="476.9" y="0" width="2.4" height="1327"/>
<rect x="955.8" y="0" width="2.6" height="1327"/>
</g>
</svg>
</body></html>
